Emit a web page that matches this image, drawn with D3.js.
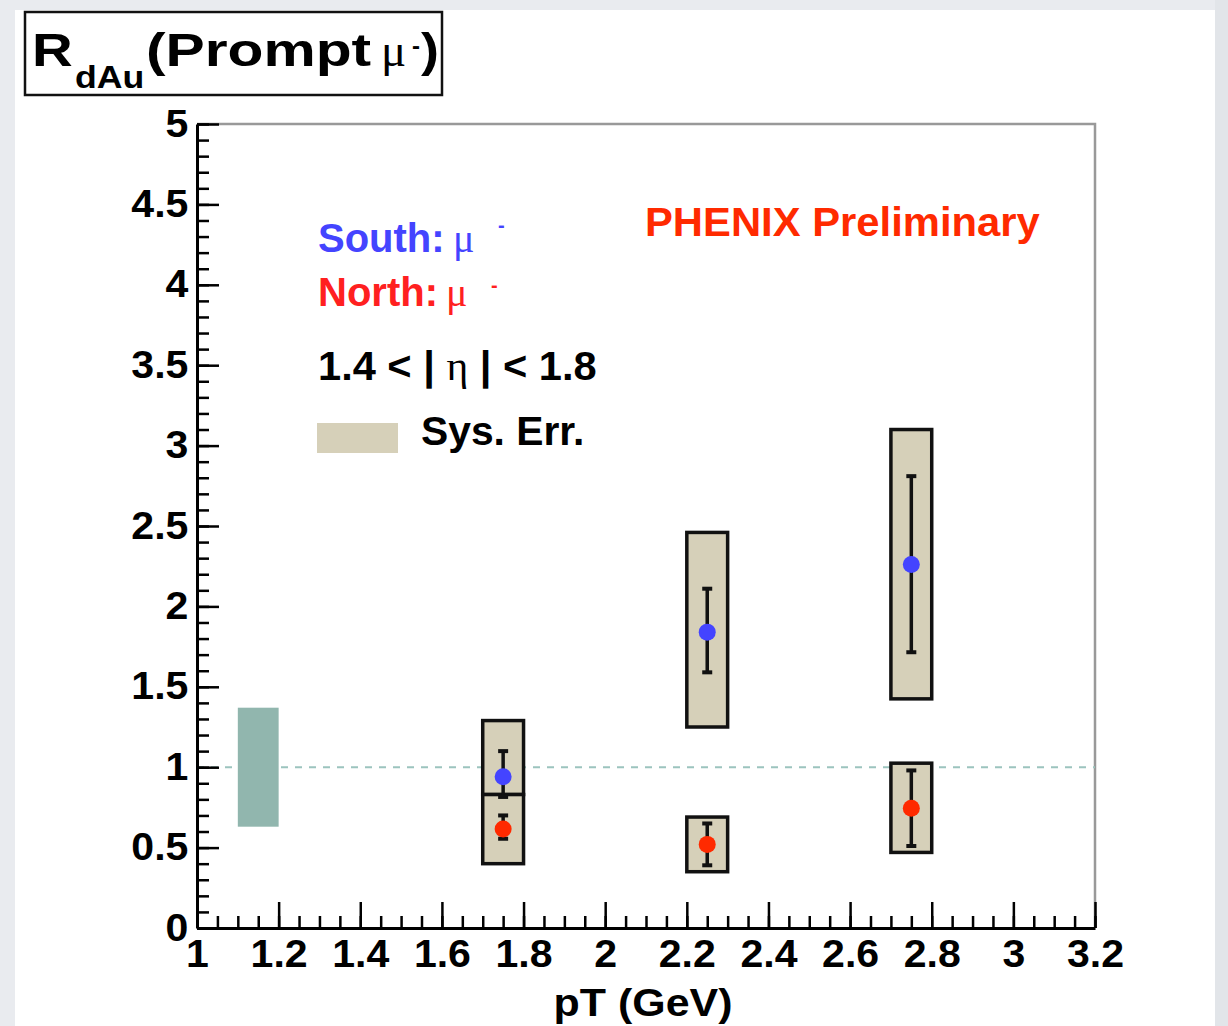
<!DOCTYPE html>
<html>
<head>
<meta charset="utf-8">
<script src="https://cdn.jsdelivr.net/npm/d3@7"></script>
<style>
  html, body { margin: 0; padding: 0; background: #e9ebef; }
  svg { display: block; }
  text { font-family: "Liberation Sans", Arial, sans-serif; font-weight: bold; }
  .greek { font-family: "Liberation Serif", "Times New Roman", serif; font-weight: normal; }
</style>
</head>
<body>
<div id="chart"></div>
<script>
const width = 1228;
const height = 1026;

// pT bins and measured R_dAu values
const ptBins = [1.75, 2.25, 2.75];
const sysHalfWidth = 0.05;

const southVal = [0.94, 1.84, 2.26];
const southStatLo = [0.815, 1.59, 1.715];
const southStatHi = [1.10, 2.11, 2.81];
const southSysLo = [0.83, 1.25, 1.425];
const southSysHi = [1.29, 2.46, 3.10];

const northVal = [0.615, 0.52, 0.745];
const northStatLo = [0.555, 0.39, 0.51];
const northStatHi = [0.70, 0.65, 0.98];
const northSysLo = [0.40, 0.35, 0.47];
const northSysHi = [0.83, 0.69, 1.025];

// global normalisation uncertainty box
const globalBoxX = [1.1, 1.2];
const globalBoxY = [0.63, 1.37];

const xTickLabels = ["1", "1.2", "1.4", "1.6", "1.8", "2", "2.2", "2.4", "2.6", "2.8", "3", "3.2"];
const yTickLabels = ["0", "0.5", "1", "1.5", "2", "2.5", "3", "3.5", "4", "4.5", "5"];

const x = d3.scaleLinear().domain([1, 3.2]).range([197, 1095]);
const y = d3.scaleLinear().domain([0, 5]).range([928, 124]);

const svg = d3.select("#chart")
    .append("svg")
    .attr("width", width)
    .attr("height", height);

// page panel
svg.append("rect").attr("x", 1215).attr("y", 0).attr("width", 13).attr("height", height).attr("fill", "#e2e5e9");
svg.append("rect").attr("x", 15).attr("y", 10).attr("width", 1200).attr("height", height - 10).attr("fill", "#fff");

const sx = 1.08;
function label(g, px, py, str, size, fill, anchor, scale) {
    return g.append("text")
        .attr("transform", `translate(${px},${py}) scale(${scale || sx},1)`)
        .attr("font-size", size)
        .attr("fill", fill || "#000")
        .attr("text-anchor", anchor || "start")
        .text(str);
}

// frame (top/right)
svg.append("path")
    .attr("d", `M${x(1)},${y(5)}H${x(3.2)}V${y(0)}`)
    .attr("fill", "none")
    .attr("stroke", "#999")
    .attr("stroke-width", 2.5);

// dashed unity line
svg.append("line")
    .attr("x1", x(1)).attr("x2", x(3.2))
    .attr("y1", y(1)).attr("y2", y(1))
    .attr("stroke", "#9cc4be")
    .attr("stroke-width", 2)
    .attr("stroke-dasharray", "7,7");

// global box
svg.append("rect")
    .attr("x", x(globalBoxX[0]))
    .attr("width", x(globalBoxX[1]) - x(globalBoxX[0]))
    .attr("y", y(globalBoxY[1]))
    .attr("height", y(globalBoxY[0]) - y(globalBoxY[1]))
    .attr("fill", "#91b6ae");

const series = [
    { val: southVal, lo: southStatLo, hi: southStatHi, slo: southSysLo, shi: southSysHi, color: "#4444ff" },
    { val: northVal, lo: northStatLo, hi: northStatHi, slo: northSysLo, shi: northSysHi, color: "#ff2a00" }
];

const boxes = svg.append("g");
const marks = svg.append("g");

series.forEach(s => {
    const pts = ptBins.map((pt, i) => ({ pt, v: s.val[i], lo: s.lo[i], hi: s.hi[i], slo: s.slo[i], shi: s.shi[i] }));

    boxes.selectAll(null)
        .data(pts)
        .enter()
        .append("rect")
        .attr("x", d => x(d.pt - sysHalfWidth))
        .attr("width", d => x(d.pt + sysHalfWidth) - x(d.pt - sysHalfWidth))
        .attr("y", d => y(d.shi))
        .attr("height", d => y(d.slo) - y(d.shi))
        .attr("fill", "#d6d0b9")
        .attr("stroke", "#111")
        .attr("stroke-width", 3.5);

    const eb = marks.selectAll(null)
        .data(pts)
        .enter()
        .append("g");

    eb.append("line")
        .attr("x1", d => x(d.pt)).attr("x2", d => x(d.pt))
        .attr("y1", d => y(d.lo)).attr("y2", d => y(d.hi))
        .attr("stroke", "#111").attr("stroke-width", 3.5);
    eb.append("line")
        .attr("x1", d => x(d.pt) - 5).attr("x2", d => x(d.pt) + 5)
        .attr("y1", d => y(d.lo)).attr("y2", d => y(d.lo))
        .attr("stroke", "#111").attr("stroke-width", 4);
    eb.append("line")
        .attr("x1", d => x(d.pt) - 5).attr("x2", d => x(d.pt) + 5)
        .attr("y1", d => y(d.hi)).attr("y2", d => y(d.hi))
        .attr("stroke", "#111").attr("stroke-width", 4);
    eb.append("circle")
        .attr("cx", d => x(d.pt))
        .attr("cy", d => y(d.v))
        .attr("r", 8.5)
        .attr("fill", s.color);
});

// axes
const xMajor = xTickLabels.map(Number);
const yMajor = yTickLabels.map(Number);
const xMinor = d3.range(0, 45).map(i => 1 + i * 0.05).filter(v => v <= 3.2001);
const yMinor = d3.range(0, 51).map(i => i * 0.1);

svg.append("g")
    .attr("transform", `translate(0,${y(0)})`)
    .call(d3.axisBottom(x).tickValues(xMinor).tickSize(-12).tickFormat("").tickSizeOuter(0))
    .call(g => g.selectAll("line").attr("stroke-width", 2.5))
    .call(g => g.select(".domain").remove());

svg.append("g")
    .attr("transform", `translate(${x(1)},0)`)
    .call(d3.axisLeft(y).tickValues(yMinor).tickSize(-12).tickFormat("").tickSizeOuter(0))
    .call(g => g.selectAll("line").attr("stroke-width", 2.5))
    .call(g => g.select(".domain").remove());

svg.append("g")
    .attr("transform", `translate(0,${y(0)})`)
    .call(d3.axisBottom(x).tickValues(xMajor).tickSize(-26).tickPadding(12).tickSizeOuter(0)
        .tickFormat((d, i) => xTickLabels[i]))
    .call(g => g.selectAll("line").attr("stroke-width", 2.5))
    .call(g => g.select(".domain").attr("stroke-width", 3))
    .call(g => g.selectAll("text").attr("font-size", 38).attr("fill", "#000")
        .attr("font-family", null).attr("transform", `scale(${sx},1)`));

svg.append("g")
    .attr("transform", `translate(${x(1)},0)`)
    .call(d3.axisLeft(y).tickValues(yMajor).tickSize(-22).tickPadding(8).tickSizeOuter(0)
        .tickFormat((d, i) => yTickLabels[i]))
    .call(g => g.selectAll("line").attr("stroke-width", 2.5))
    .call(g => g.select(".domain").attr("stroke-width", 3))
    .call(g => g.selectAll("text").attr("font-size", 38).attr("fill", "#000")
        .attr("font-family", null).attr("transform", `scale(${sx},1)`));

// axis title
label(svg, 643, 1016, "pT (GeV)", 38, "#000", "middle", 1.13);

// title box
svg.append("rect")
    .attr("x", 25).attr("y", 12).attr("width", 417).attr("height", 83)
    .attr("fill", "#fff").attr("stroke", "#111").attr("stroke-width", 2.5);
label(svg, 32, 66, "R", 47, "#000", "start", 1.2);
label(svg, 75, 88, "dAu", 31, "#000", "start", 1.15);
label(svg, 146, 66, "(Prompt", 47, "#000", "start", 1.25);
label(svg, 381, 66, "μ", 47, "#000", "start", 1.0).attr("class", "greek");
label(svg, 412, 54, "-", 24, "#000", "start", 1.0);
label(svg, 421, 66, ")", 47, "#000", "start", 1.15);

// legend
label(svg, 318, 252, "South:", 40, "#4444ff", "start", 1.0);
label(svg, 453, 252, "μ", 40, "#4444ff", "start", 1.0).attr("class", "greek");
label(svg, 498, 232, "-", 20, "#4444ff", "start", 1.0);
label(svg, 318, 306, "North:", 40, "#ff2020", "start", 1.0);
label(svg, 446, 306, "μ", 40, "#ff2020", "start", 1.0).attr("class", "greek");
label(svg, 491, 292, "-", 20, "#ff2020", "start", 1.0);

const eta = label(svg, 318, 380, "", 40, "#000", "start", 1.04);
eta.append("tspan").text("1.4 < | ");
eta.append("tspan").attr("class", "greek").text("η");
eta.append("tspan").text(" | < 1.8");

svg.append("rect")
    .attr("x", 317).attr("y", 423).attr("width", 81).attr("height", 30)
    .attr("fill", "#d6d0b9");
label(svg, 421, 445, "Sys. Err.", 40, "#000", "start", 1.02);

label(svg, 645, 236, "PHENIX Preliminary", 40, "#ff2a00", "start", 1.045);
</script>
</body>
</html>
